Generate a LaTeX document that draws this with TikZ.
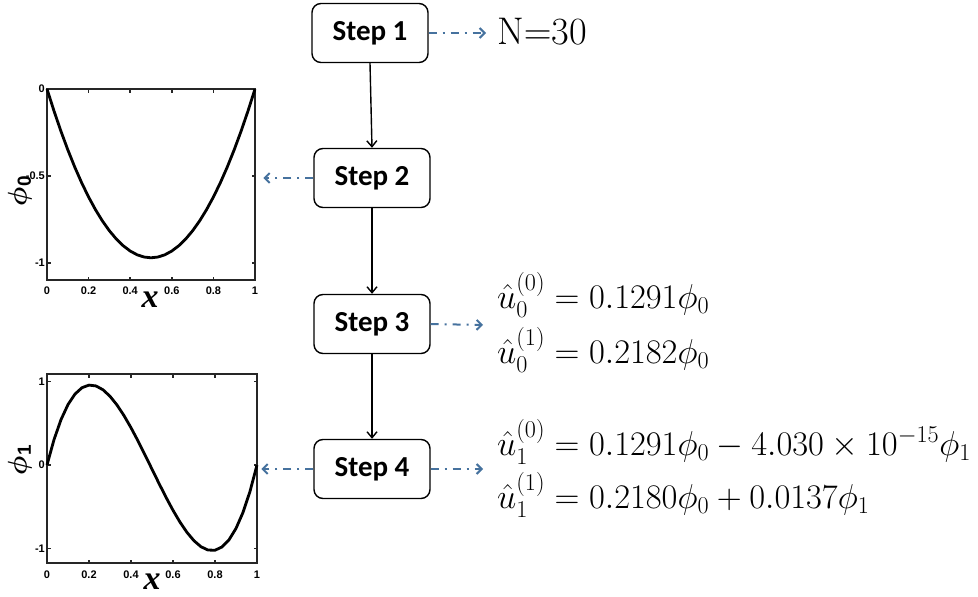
\RequirePackage{fix-cm}
\documentclass[tikz,border=0pt]{standalone}
\usepackage{amsmath,amssymb,bm}
\usepackage{fontspec}
\newfontfamily\stepfont{Carlito}
\newfontfamily\axfont{Liberation Sans}
\newfontfamily\labfont{Liberation Serif}
\usetikzlibrary{arrows.meta}
\definecolor{dashblue}{RGB}{70,114,158}
\definecolor{frame}{RGB}{38,38,38}
\tikzset{
  stepbox/.style={draw=black, line width=1.4pt, rounded corners=9pt, minimum width=116pt, minimum height=59pt, inner sep=0pt, font=\stepfont\bfseries\fontsize{29}{32}\selectfont},
  flow/.style={line width=1.4pt, -{Straight Barb[length=6pt,width=10pt,line width=1.4pt]}},
  link/.style={dashblue, line width=2pt, dash pattern=on 8pt off 6pt on 2pt off 6pt, -{Straight Barb[length=5pt,width=10pt,line width=2pt]}},
  plotframe/.style={draw=frame, line width=2.6pt, inner sep=0pt},
  ticklab/.style={font=\axfont\bfseries\fontsize{11}{12}\selectfont, inner sep=0pt},
  eqn/.style={anchor=base west, inner sep=0pt, font=\fontsize{34.5}{38}\selectfont},
  curve/.style={line width=2.8pt, black, line join=round},
  xlab/.style={font=\labfont\bfseries\itshape\fontsize{34}{36}\selectfont, inner sep=0pt},
}
\begin{document}
\begin{tikzpicture}[x=1pt,y=-1pt]
\useasboundingbox (0,0) rectangle (978,597);
% steps
\node[stepbox] (s1) at (370,33) {Step 1};
\node[stepbox] (s2) at (372,178) {Step 2};
\node[stepbox] (s3) at (372,324) {Step 3};
\node[stepbox] (s4) at (372,469) {Step 4};
\draw[flow] (s1.south) -- (s2.north);
\draw[flow] (s2.south) -- (s3.north);
\draw[flow] (s3.south) -- (s4.north);
% N=30
\node[anchor=base west, inner sep=0pt, font=\fontsize{38.5}{42}\selectfont] (n30) at (497,45) {N$=$30};
\coordinate (n30in) at (486,33);
\draw[link] (s1.east) -- (n30in);
% step 3 equations
\node[eqn] (e1) at (497,308) {$\hat u_0^{(0)} = 0.1291\phi_0$};
\node[eqn] (e2) at (497,363) {$\hat u_0^{(1)} = 0.2182\phi_0$};
\coordinate (e12in) at (483,325);
\draw[link] (s3.east) -- (e12in);
% step 4 equations
\node[eqn] (e3) at (497,455) {$\hat u_1^{(0)} = 0.1291\phi_0 - 4.030\times 10^{-15}\phi_1$};
\node[eqn] (e4) at (497,508) {$\hat u_1^{(1)} = 0.2180\phi_0 + 0.0137\phi_1$};
\coordinate (e34in) at (483,469);
\draw[link] (s4.east) -- (e34in);
% plot 1
\node[plotframe, minimum width=208pt, minimum height=191pt] (p1) at (151,184.5) {};
\foreach \t in {0.2,0.4,0.6,0.8}{
  \draw[frame, line width=1.6pt] ({47+208*\t},89) -- ++(0,3.5);
  \draw[frame, line width=1.6pt] ({47+208*\t},280) -- ++(0,-3.5);
}
\foreach \v in {0,0.5,1}{
  \draw[frame, line width=1.6pt] (47,{89+174*\v}) -- ++(3.5,0);
  \draw[frame, line width=1.6pt] (255,{89+174*\v}) -- ++(-3.5,0);
}
\draw[curve] plot[domain=0:1, samples=31] ({47+208*\x},{89+174*3.88*\x*(1-\x)});
\foreach \t/\l in {0/0,0.2/0.2,0.4/0.4,0.6/0.6,0.8/0.8,1/1}{
  \node[ticklab] at ({47+208*\t},291) {\l};
}
\node[ticklab, anchor=east] at (45,89) {0};
\node[ticklab, anchor=east] at (45,176) {-0.5};
\node[ticklab, anchor=east] at (45,263) {-1};
\node[rotate=90, inner sep=0pt] (p1y) at (20,191) {\fontsize{27}{29}\selectfont$\bm{\phi}_{\text{\axfont\bfseries\fontsize{19}{20}\selectfont 0}}$};
\node[xlab] (p1x) at (150,300) {x};
% plot 2
\node[plotframe, minimum width=210pt, minimum height=189pt] (p2) at (152,468.5) {};
\foreach \t in {0.2,0.4,0.6,0.8}{
  \draw[frame, line width=1.6pt] ({47+210*\t},374) -- ++(0,3.5);
  \draw[frame, line width=1.6pt] ({47+210*\t},563) -- ++(0,-3.5);
}
\foreach \v in {-1,0,1}{
  \draw[frame, line width=1.6pt] (47,{465-83.5*\v}) -- ++(3.5,0);
  \draw[frame, line width=1.6pt] (257,{465-83.5*\v}) -- ++(-3.5,0);
}
\draw[curve] plot[domain=0:1, samples=31] ({47+210*\x},{465-83.5*(10.3*\x*(1-\x)*(1-2*\x)-0.2*\x*(1-\x))});
\foreach \t/\l in {0/0,0.2/0.2,0.4/0.4,0.6/0.6,0.8/0.8,1/1}{
  \node[ticklab] at ({47+210*\t},575) {\l};
}
\node[ticklab, anchor=east] at (45,382) {1};
\node[ticklab, anchor=east] at (45,465) {0};
\node[ticklab, anchor=east] at (45,549) {-1};
\node[rotate=90, inner sep=0pt] (p2y) at (20,460) {\fontsize{27}{29}\selectfont$\bm{\phi}_{\text{\axfont\bfseries\fontsize{19}{20}\selectfont 1}}$};
\node[xlab] (p2x) at (152,582) {x};
% links to plots
\draw[link] (s2.west) -- ([xshift=7pt]s2.west -| p1.east);
\draw[link] (s4.west) -- ([xshift=3pt]s4.west -| p2.east);
\end{tikzpicture}
\end{document}
